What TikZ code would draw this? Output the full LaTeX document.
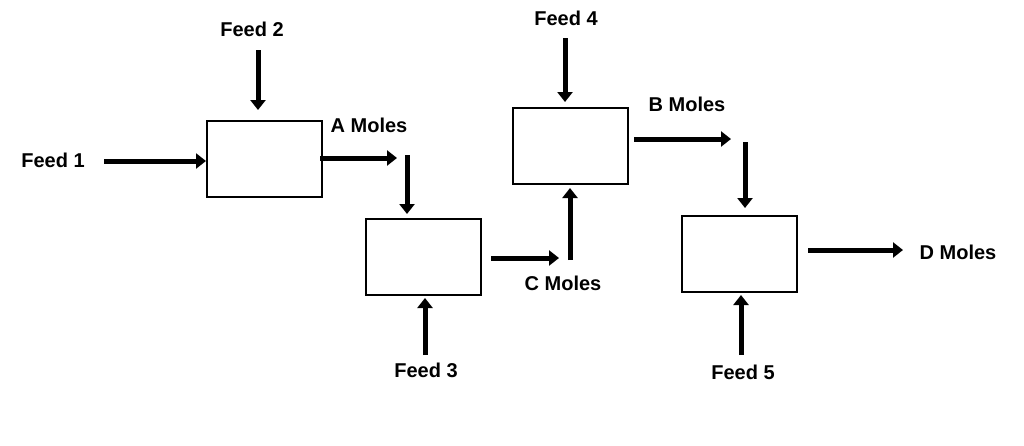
\documentclass[tikz,border=0pt]{standalone}
\usepackage{fontspec}
\setmainfont{Liberation Sans}
\usetikzlibrary{arrows.meta}
\begin{document}
\begin{tikzpicture}[x=1pt,y=-1pt,
  box/.style={draw,line width=2pt,minimum width=115pt,minimum height=76pt,inner sep=0},
  flow/.style={line width=5pt,-{Triangle[length=10pt,width=15pt]}},
  lbl/.style={font=\bfseries\fontsize{20}{22}\selectfont,inner sep=1pt}]
\useasboundingbox (0,0) rectangle (1024,445);
\node[box] (b1) at (264.5,159) {};
\node[box] (b2) at (423.5,256.5) {};
\node[box] (b3) at (570.5,146) {};
\node[box] (b4) at (739.5,253.5) {};
\node[lbl] (f1) at (53,160) {Feed 1};
\node[lbl] (f2) at (252,29) {Feed 2};
\node[lbl] (am) at (369,125) {A Moles};
\node[lbl] (f3) at (426,370) {Feed 3};
\node[lbl] (cm) at (563,283) {C Moles};
\node[lbl] (f4) at (566,18) {Feed 4};
\node[lbl] (bm) at (687,104) {B Moles};
\node[lbl] (f5) at (743,372) {Feed 5};
\node[lbl] (dm) at (958,252) {D Moles};
\coordinate (a1) at (320,158); \coordinate (a2) at (397,158);
\coordinate (a3) at (407,155); \coordinate (c1) at (491,258);
\coordinate (c2) at (559,258); \coordinate (c3) at (570,260);
\coordinate (bb1) at (634,139); \coordinate (bb2) at (731,139);
\coordinate (bb3) at (745,142);
\draw[flow] (104,161) -- (b1.west|-0,161);
\draw[flow] (258,50) -- (258,110);
\draw[flow] (a1) -- (a2);
\draw[flow] (a3) -- (407,214);
\draw[flow] (425,355) -- (425,298);
\draw[flow] (c1) -- (c2);
\draw[flow] (c3) -- (570,188);
\draw[flow] (565,38) -- (565,102);
\draw[flow] (bb1) -- (bb2);
\draw[flow] (bb3) -- (745,208);
\draw[flow] (741,355) -- (741,295);
\draw[flow] (808,250) -- (903,250);
\end{tikzpicture}
\end{document}
